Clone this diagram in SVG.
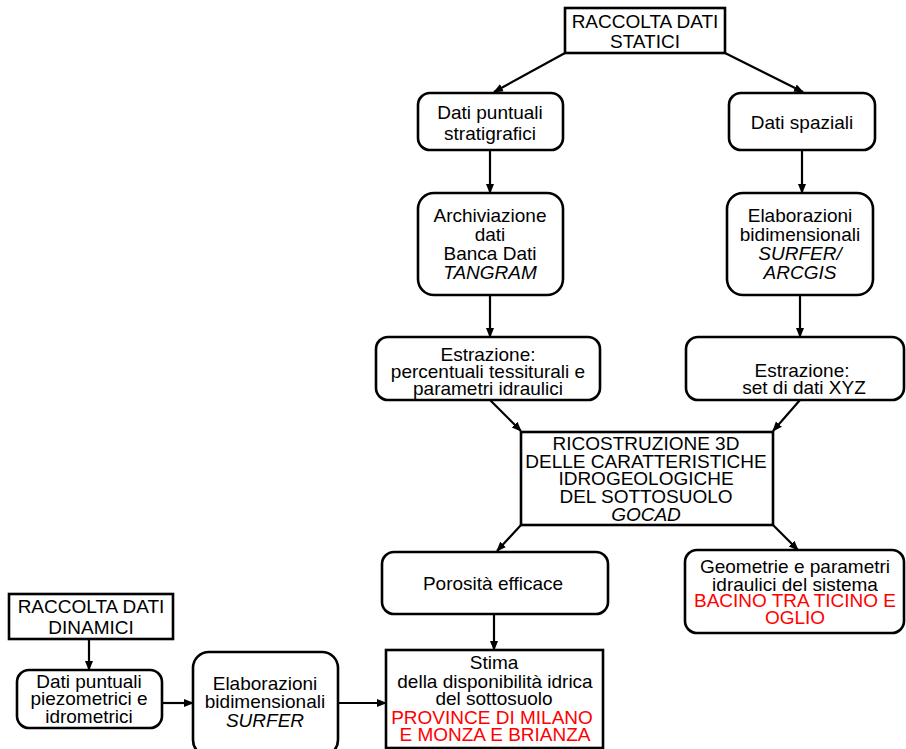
<svg xmlns="http://www.w3.org/2000/svg" width="906" height="749" viewBox="0 0 906 749">
<style>
.box{fill:#fff;stroke:#000;stroke-width:2.6}
.t{font-family:"Liberation Sans",Arial,sans-serif;font-size:19px;fill:#000;text-anchor:middle}
.i{font-style:italic}
.r{fill:#ff0000}
.c{stroke:#000;stroke-width:2.2;fill:none;marker-end:url(#ah)}
</style>
<defs>
<marker id="ah" markerUnits="userSpaceOnUse" markerWidth="10" markerHeight="10" viewBox="0 0 10 10" refX="9" refY="5" orient="auto">
<path d="M0,1 L10,5 L0,9 z" fill="#000"/>
</marker>
</defs>
<rect width="906" height="749" fill="#fff"/>
<g id="connectors">
<line class="c" x1="565" y1="53" x2="494" y2="92"/>
<line class="c" x1="725" y1="53" x2="803" y2="92"/>
<line class="c" x1="490" y1="150" x2="490" y2="193"/>
<line class="c" x1="802" y1="150" x2="802" y2="193"/>
<line class="c" x1="490" y1="295" x2="490" y2="337"/>
<line class="c" x1="800" y1="295" x2="800" y2="337"/>
<line class="c" x1="490" y1="400" x2="521" y2="431"/>
<line class="c" x1="800" y1="400" x2="773" y2="431"/>
<line class="c" x1="521" y1="525" x2="497" y2="551"/>
<line class="c" x1="773" y1="525" x2="798" y2="550"/>
<line class="c" x1="494" y1="614" x2="494" y2="650"/>
<line class="c" x1="89" y1="639" x2="89" y2="670"/>
<line class="c" x1="162" y1="703" x2="193" y2="703"/>
<line class="c" x1="338" y1="703" x2="386" y2="703"/>
</g>
<g id="statici">
<rect class="box" x="565" y="8" width="160" height="45"/>
<text class="t" x="645" y="28">RACCOLTA DATI</text>
<text class="t" x="645" y="48">STATICI</text>
</g>
<g id="puntuali">
<rect class="box" x="418" y="93" width="145" height="57" rx="12"/>
<text class="t" x="490" y="119">Dati puntuali</text>
<text class="t" x="490" y="140">stratigrafici</text>
</g>
<g id="spaziali">
<rect class="box" x="729" y="93" width="146" height="57" rx="12"/>
<text class="t" x="802" y="129">Dati spaziali</text>
</g>
<g id="archiviazione">
<rect class="box" x="418" y="193" width="145" height="102" rx="16"/>
<text class="t" x="490" y="222">Archiviazione</text>
<text class="t" x="490" y="241">dati</text>
<text class="t" x="490" y="260">Banca Dati</text>
<text class="t i" x="490" y="279">TANGRAM</text>
</g>
<g id="elaborazioni">
<rect class="box" x="727" y="193" width="146" height="102" rx="16"/>
<text class="t" x="800" y="222">Elaborazioni</text>
<text class="t" x="800" y="241">bidimensionali</text>
<text class="t i" x="800" y="260">SURFER/</text>
<text class="t i" x="800" y="279">ARCGIS</text>
</g>
<g id="estrazione-l">
<rect class="box" x="376" y="337" width="224" height="63" rx="12"/>
<text class="t" x="488" y="361">Estrazione:</text>
<text class="t" x="488" y="378">percentuali tessiturali e</text>
<text class="t" x="488" y="395">parametri idraulici</text>
</g>
<g id="estrazione-r">
<rect class="box" x="686" y="337" width="218" height="63" rx="12"/>
<text class="t" x="802" y="377">Estrazione:</text>
<text class="t" x="804" y="394">set di dati XYZ</text>
</g>
<g id="ricostruzione">
<rect class="box" x="521" y="432" width="252" height="93"/>
<text class="t" x="646" y="450">RICOSTRUZIONE 3D</text>
<text class="t" x="646" y="468">DELLE CARATTERISTICHE</text>
<text class="t" x="646" y="485">IDROGEOLOGICHE</text>
<text class="t" x="646" y="503">DEL SOTTOSUOLO</text>
<text class="t i" x="646" y="521">GOCAD</text>
</g>
<g id="porosita">
<rect class="box" x="382" y="552" width="226" height="62" rx="12"/>
<text class="t" x="493" y="590">Porosità efficace</text>
</g>
<g id="geometrie">
<rect class="box" x="685" y="550" width="219" height="83" rx="12"/>
<text class="t" x="795" y="573">Geometrie e parametri</text>
<text class="t" x="795" y="591">idraulici del sistema</text>
<text class="t r" x="795" y="607">BACINO TRA TICINO E</text>
<text class="t r" x="795" y="624">OGLIO</text>
</g>
<g id="stima">
<rect class="box" x="386" y="650" width="217" height="98"/>
<text class="t" x="494" y="669">Stima</text>
<text class="t" x="495" y="688">della disponibilità idrica</text>
<text class="t" x="494" y="705">del sottosuolo</text>
<text class="t r" x="492" y="724">PROVINCE DI MILANO</text>
<text class="t r" x="495" y="741">E MONZA E BRIANZA</text>
</g>
<g id="dinamici">
<rect class="box" x="9" y="594" width="164" height="45"/>
<text class="t" x="91" y="613">RACCOLTA DATI</text>
<text class="t" x="91" y="634">DINAMICI</text>
</g>
<g id="piezometrici">
<rect class="box" x="17" y="670" width="145" height="58" rx="12"/>
<text class="t" x="89" y="688">Dati puntuali</text>
<text class="t" x="89" y="705">piezometrici e</text>
<text class="t" x="89" y="723">idrometrici</text>
</g>
<g id="surfer">
<rect class="box" x="193" y="652" width="145" height="104" rx="16"/>
<text class="t" x="265" y="690">Elaborazioni</text>
<text class="t" x="265" y="708">bidimensionali</text>
<text class="t i" x="265" y="727">SURFER</text>
</g>
</svg>
